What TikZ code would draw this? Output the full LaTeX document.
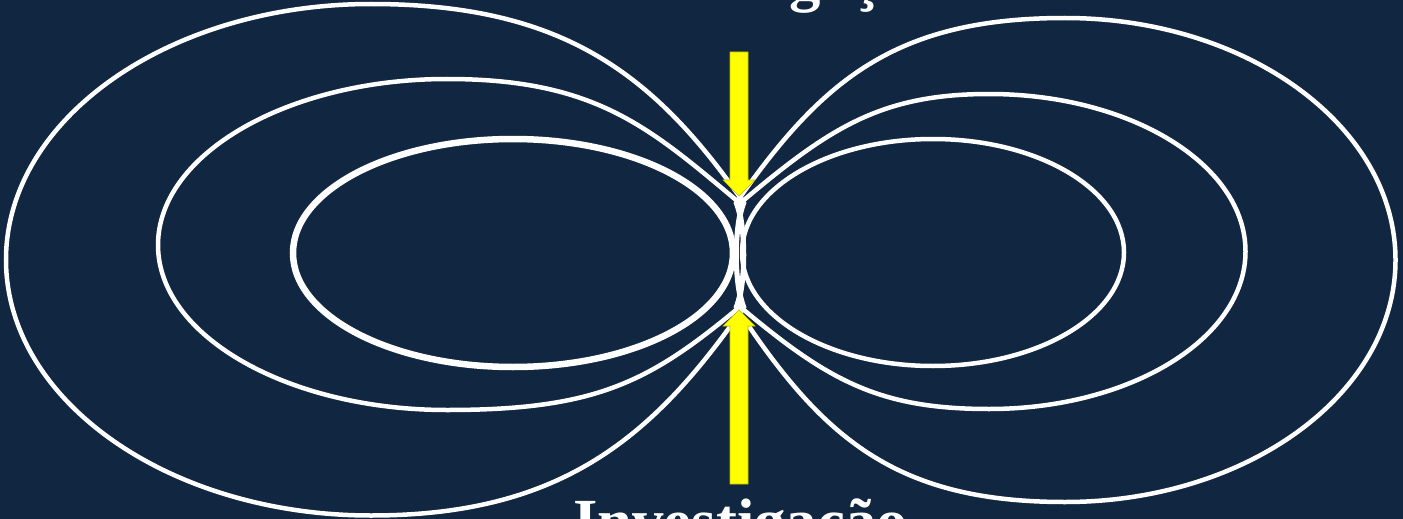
\documentclass[tikz,border=0pt]{standalone}
\usepackage{fontspec}
\setmainfont{Liberation Serif}
\definecolor{navy}{RGB}{17,38,64}
\definecolor{ylw}{RGB}{255,255,0}
\begin{document}
\begin{tikzpicture}[x=1pt,y=-1pt,
  field/.style={draw=white,line width=4.5pt},
  innerfield/.style={draw=white,line width=6.5pt},
  arrowshape/.style={fill=ylw,draw=ylw!75!black,line width=0.6pt},
  label/.style={text=white,font=\bfseries\fontsize{62.8}{70}\selectfont,inner sep=0pt,anchor=base}]
\useasboundingbox (0,0) rectangle (1403,519);
\clip (0,0) rectangle (1403,519);
\fill[navy] (0,0) rectangle (1403,519);
% left loops
\draw[field] (744,203) .. controls (653,72) and (561,4) .. (371,4)
  .. controls (169.5,4) and (6,118.5) .. (6,259.75)
  .. controls (6,400.9) and (169.5,515.5) .. (371,515.5)
  .. controls (561,515.5) and (653,438) .. (744,307)
  .. controls (734,280) and (734,230) .. cycle;
\draw[field] (742,205) .. controls (650,128) and (597,79) .. (447,79)
  .. controls (288,79) and (158,154) .. (158,245)
  .. controls (158,336) and (288,410) .. (447,410)
  .. controls (597,410) and (650,382) .. (742,305)
  .. controls (734,280) and (734,230) .. cycle;
\draw[innerfield] (513,253) ellipse [x radius=220, y radius=114];
% right loops
\draw[field] (736,203) .. controls (822,80) and (895,18) .. (1065,18)
  .. controls (1247.4,18) and (1395.5,126.4) .. (1395.5,260)
  .. controls (1395.5,393.6) and (1247.4,502) .. (1065,502)
  .. controls (895,502) and (822,438) .. (736,307)
  .. controls (746,280) and (746,230) .. cycle;
\draw[field] (738,205) .. controls (828,129) and (879,94) .. (989,94)
  .. controls (1130.6,94) and (1245.5,164.6) .. (1245.5,251.5)
  .. controls (1245.5,338.4) and (1130.6,409) .. (989,409)
  .. controls (879,409) and (828,381) .. (738,305)
  .. controls (746,280) and (746,230) .. cycle;
\draw[field] (933,252.5) ellipse [x radius=191, y radius=113.5];
% arrows
\draw[arrowshape] (730,52) -- (748,52) -- (748,180) -- (755,180) -- (739,196) -- (723,180) -- (730,180) -- cycle;
\draw[arrowshape] (739,310) -- (755,326) -- (748,326) -- (748,484) -- (730,484) -- (730,326) -- (723,326) -- cycle;
% labels
\node[label] (toplabel) at (776,0) {Investigação};
\node[label] (bottomlabel) at (740.5,542.6) {Investigação};
\end{tikzpicture}
\end{document}
